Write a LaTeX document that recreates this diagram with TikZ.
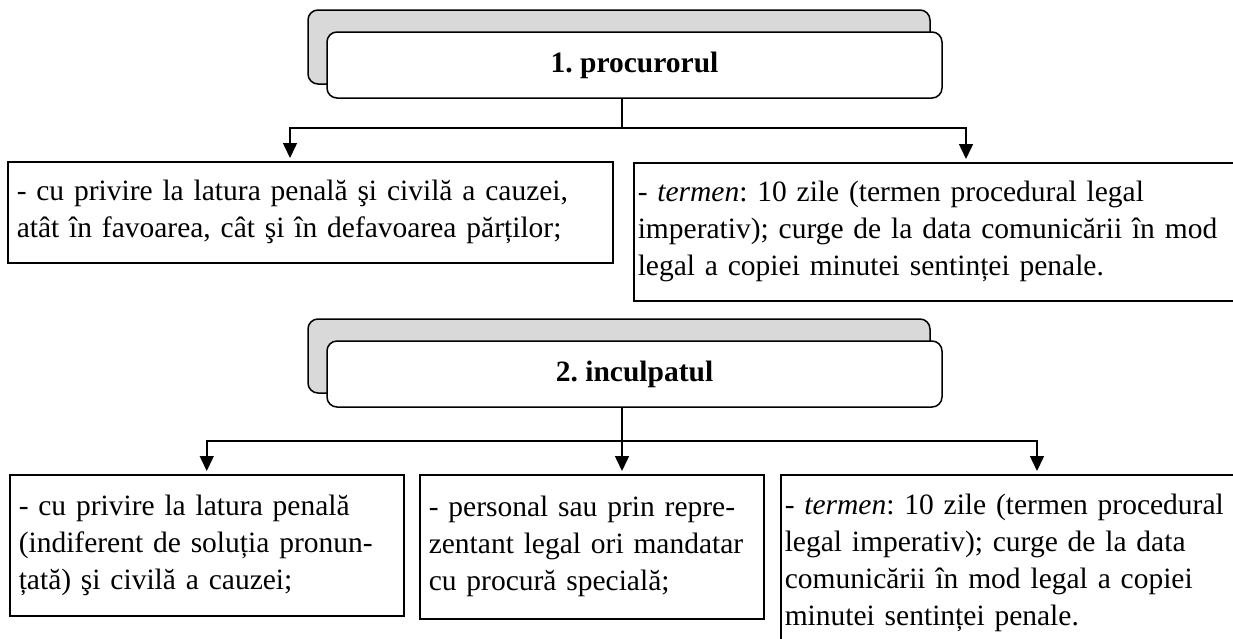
\documentclass[tikz,border=0pt]{standalone}
\usepackage{fontspec}
\setmainfont{Liberation Serif}
\usetikzlibrary{arrows.meta}
\frenchspacing

\newcommand\boxfont{\fontsize{29.5}{37}\selectfont}

\tikzset{
  hdrback/.style={draw, line width=1.5pt, fill=black!15, rounded corners=10pt,
    minimum width=622pt, minimum height=74pt},
  hdrfront/.style={draw, line width=1.5pt, fill=white, rounded corners=10pt,
    minimum width=615pt, minimum height=66pt, font=\boxfont\bfseries},
  txtbox/.style={draw, line width=1.5pt, fill=white, anchor=north west,
    inner ysep=0pt, align=left, font=\boxfont},
  link/.style={line width=1.5pt},
  arr/.style={line width=1.5pt, -{Triangle[length=15pt,width=14pt]}, shorten >=3pt}
}

\begin{document}
\begin{tikzpicture}[x=1pt,y=-1pt]
  \useasboundingbox (0,0) rectangle (1233,638);
  \fill[white] (0,0) rectangle (1233,638);

  % Header 1
  \node[hdrback] (hdr1back) at (619,47) {};
  \node[hdrfront] (hdr1) at (634.5,65) {1. procurorul};

  % Level 1 boxes
  \node[txtbox, inner xsep=9pt, text width=587pt, minimum height=101pt] (L1) at (7,161)
    {\makebox[587pt][s]{- cu privire la latura penală şi civilă a cauzei,}\\
     atât în favoarea, cât şi în defavoarea părților;};
  \node[txtbox, inner xsep=4pt, text width=659pt, minimum height=138pt] (R1) at (633,162)
    {- \textit{termen}: 10 zile (termen procedural legal\\
     imperativ); curge de la data comunicării în mod\\
     legal a copiei minutei sentinței penale.};

  % Connectors level 1
  \coordinate (j1) at (622,128);
  \draw[link] (hdr1.south -| j1) -- (j1);
  \draw[arr] (j1) -| ([xshift=283pt]L1.north west);
  \draw[arr] (j1) -| ([xshift=333pt]R1.north west);

  % Header 2
  \node[hdrback] (hdr2back) at (619,356) {};
  \node[hdrfront] (hdr2) at (634.5,374) {2. inculpatul};

  % Level 2 boxes
  \node[txtbox, inner xsep=9pt, text width=376pt, minimum height=141pt] (B1) at (9,474)
    {- cu privire la latura penală\\
     (indiferent de soluția pronun-\\
     țată) şi civilă a cauzei;};
  \node[txtbox, inner xsep=9pt, text width=326pt, minimum height=144pt] (B2) at (419,474)
    {- personal sau prin repre-\\
     zentant legal ori mandatar\\
     cu procură specială;};
  \node[txtbox, inner xsep=4pt, text width=512pt, minimum height=176pt] (B3) at (780,474)
    {- \textit{termen}: 10 zile (termen procedural\\
     legal imperativ); curge de la data\\
     comunicării în mod legal a copiei\\
     minutei sentinței penale.};

  % Connectors level 2
  \coordinate (j2) at (622,441);
  \draw[link] (hdr2.south -| j2) -- (j2);
  \draw[arr] (j2) -| (B1.north);
  \draw[arr] (j2) -- (B2.north -| j2);
  \draw[arr] (j2) -| ([xshift=257pt]B3.north west);
\end{tikzpicture}
\end{document}
